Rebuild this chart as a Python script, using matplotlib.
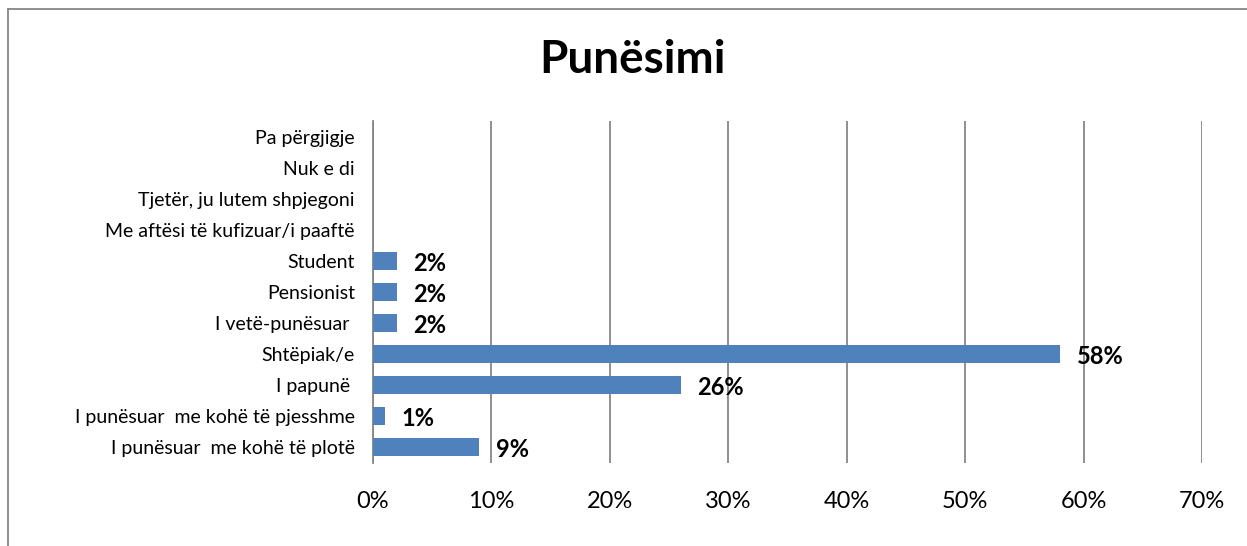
import matplotlib
matplotlib.use('Agg')
import matplotlib.pyplot as plt
from matplotlib.lines import Line2D
from matplotlib.ticker import FuncFormatter

# ── Data ─────────────────────────────────────────────────────
categories = ['I punësuar  me kohë të plotë', 'I punësuar  me kohë të pjesshme',
              'I papunë ', 'Shtëpiak/e', 'I vetë-punësuar ', 'Pensionist',
              'Student', 'Me aftësi të kufizuar/i paaftë',
              'Tjetër, ju lutem shpjegoni', 'Nuk e di', 'Pa përgjigje']
values = [9, 1, 26, 58, 2, 2, 2, None, None, None, None]
x_ticks = [0, 10, 20, 30, 40, 50, 60, 70]

plt.rcParams['font.family'] = ['Lato', 'DejaVu Sans']

bar_color = '#4F81BD'
grid_color = '#868686'

fig = plt.figure(figsize=(12.47, 5.46), dpi=100)
ax = fig.add_axes([0.299, 0.152, 0.665, 0.626])

ypos = list(range(len(categories)))
bar_vals = [v if v is not None else 0 for v in values]
ax.barh(ypos, bar_vals, height=0.58, color=bar_color, zorder=3)

for y, v in zip(ypos, values):
    if v:
        ax.text(v + 1.4, y - 0.07, f'{v}%', va='center', ha='left',
                fontsize=17, fontweight='bold', color='black', zorder=4)

ax.set_xlim(0, 70)
ax.set_ylim(-0.5, len(categories) - 0.5)
ax.set_xticks(x_ticks)
ax.xaxis.set_major_formatter(FuncFormatter(lambda v, p: f'{v:.0f}%'))
ax.set_yticks(ypos)
ax.set_yticklabels(categories)
ax.tick_params(axis='x', length=0, pad=20, labelsize=17)
ax.tick_params(axis='y', length=0, pad=13, labelsize=14)

ax.grid(axis='x', color=grid_color, linewidth=1.3, zorder=0)
for s in ['top', 'right', 'bottom']:
    ax.spines[s].set_visible(False)
ax.spines['left'].set_color(grid_color)
ax.spines['left'].set_linewidth(1.3)

fig.text(0.507, 0.89, 'Punësimi', ha='center', va='center',
         fontsize=33, fontweight='bold')

# outer chart frame
fig.add_artist(Line2D([8/1247, 1], [1 - 9/546, 1 - 9/546], transform=fig.transFigure,
                      color=grid_color, linewidth=1.3))
fig.add_artist(Line2D([8/1247, 8/1247], [0, 1 - 9/546], transform=fig.transFigure,
                      color=grid_color, linewidth=1.3))

plt.savefig('out.png', dpi=100, facecolor='white')
